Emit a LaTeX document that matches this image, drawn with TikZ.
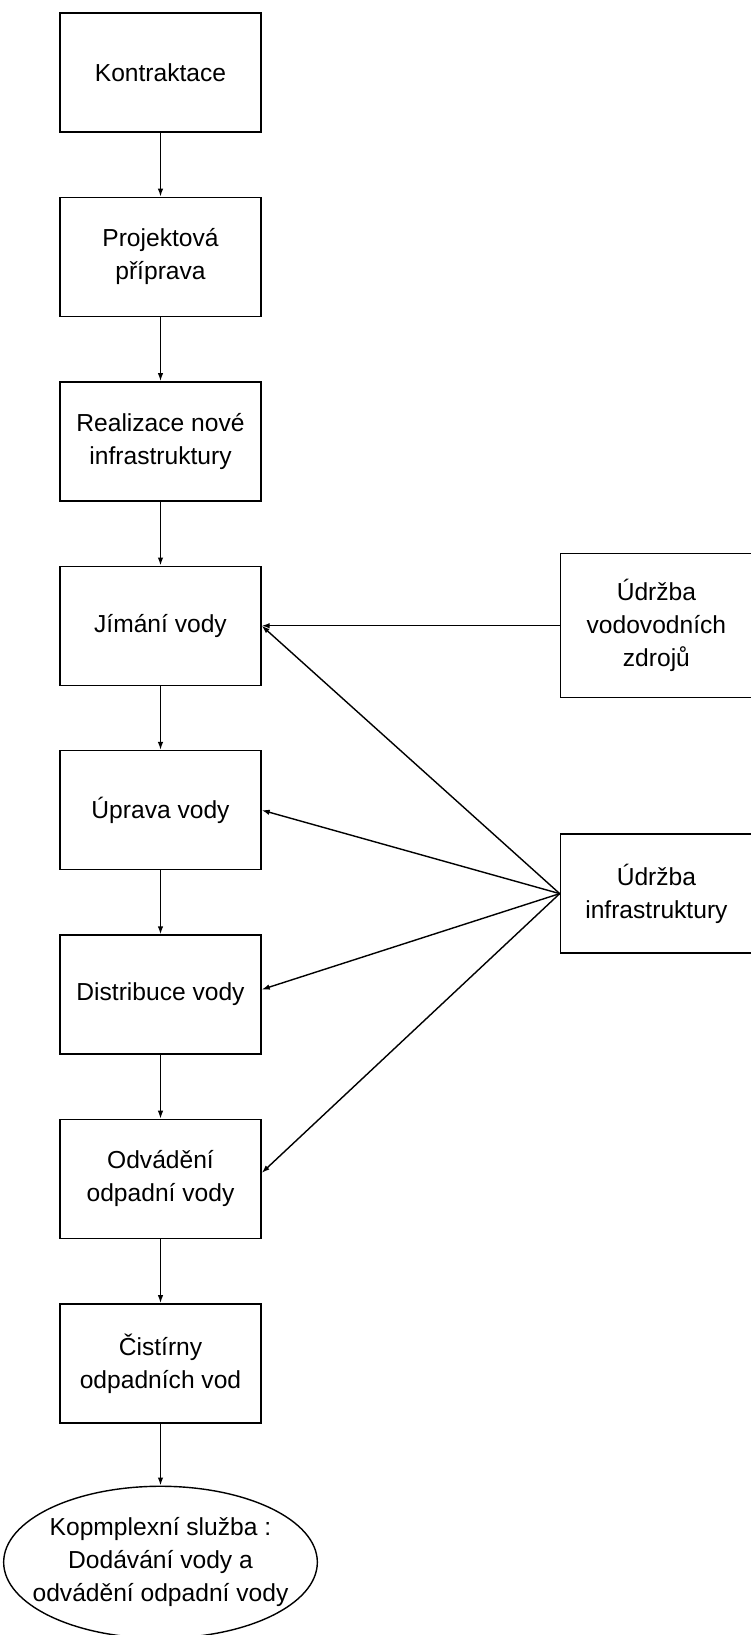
\documentclass[tikz,border=0pt]{standalone}
\usepackage{fontspec}
\setmainfont{Liberation Sans}
\usetikzlibrary{positioning}
\usetikzlibrary{arrows.meta}
\usetikzlibrary{shapes.geometric}

\tikzset{
  krok/.style={draw, line width=0.8pt, minimum width=4.02cm, minimum height=2.38cm,
    align=center, font=\fontsize{14}{18.8}\selectfont},
  udrzba/.style={krok, minimum width=3.84cm},
  sluzba/.style={ellipse, draw, line width=0.8pt, minimum height=3.04cm,
    inner xsep=-0.34cm, inner ysep=0pt, align=center, font=\fontsize{14}{18.8}\selectfont},
  sipka/.style={-{Latex[length=1.6mm,width=1.1mm]}, line width=0.8pt}
}

\begin{document}
\begin{tikzpicture}

\useasboundingbox (0,0) rectangle (15.02,-32.7);

% hlavni posloupnost
\node[krok] (kontr) at (3.21,-1.45) {Kontraktace};
\node[krok, below=1.28cm of kontr] (proj) {Projektová\\příprava};
\node[krok, below=1.28cm of proj] (real) {Realizace nové\\infrastruktury};
\node[krok, below=1.28cm of real] (jimani) {Jímání vody};
\node[krok, below=1.28cm of jimani] (uprava) {Úprava vody};
\node[krok, below=1.28cm of uprava] (distr) {Distribuce vody};
\node[krok, below=1.28cm of distr] (odvad) {Odvádění\\odpadní vody};
\node[krok, below=1.28cm of odvad] (cist) {Čistírny\\odpadních vod};
\node[sluzba, below=1.24cm of cist] (sluz) {Kopmplexní služba :\\Dodávání vody a\\odvádění odpadní vody};

% udrzba
\node[udrzba, minimum height=2.88cm, right=5.96cm of jimani] (zdroje) {Údržba\\vodovodních\\zdrojů};
\node[udrzba, below=2.7cm of zdroje] (infra) {Údržba\\infrastruktury};

\draw[sipka] (kontr) -- (proj);
\draw[sipka] (proj) -- (real);
\draw[sipka] (real) -- (jimani);
\draw[sipka] (jimani) -- (uprava);
\draw[sipka] (uprava) -- (distr);
\draw[sipka] (distr) -- (odvad);
\draw[sipka] (odvad) -- (cist);
\draw[sipka] (cist) -- (sluz);

\draw[sipka] (zdroje.west) -- (jimani.east);
\draw[sipka] (infra.west) -- (jimani.east);
\draw[sipka] (infra.west) -- (uprava.east);
\draw[sipka] (infra.west) -- ([yshift=1mm]distr.east);
\draw[sipka] (infra.west) -- ([yshift=1.2mm]odvad.east);

\end{tikzpicture}
\end{document}
